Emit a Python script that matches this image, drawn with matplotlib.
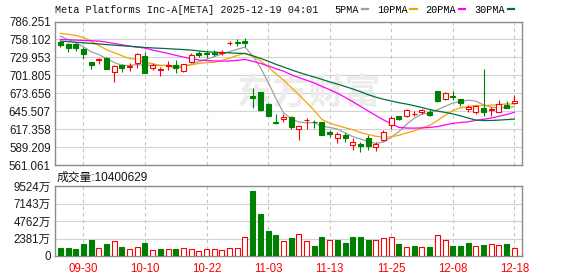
import numpy as np
import matplotlib
matplotlib.use('Agg')
import matplotlib.pyplot as plt
from matplotlib.lines import Line2D

# ---- data (prices in USD, volume in 万 shares) ----
dates = ['09-25', '09-26', '09-29', '09-30', '10-01', '10-02', '10-03', '10-06', '10-07', '10-08',
         '10-09', '10-10', '10-13', '10-14', '10-15', '10-16', '10-17', '10-20', '10-21', '10-22',
         '10-23', '10-24', '10-27', '10-28', '10-29', '10-30', '10-31', '11-03', '11-04', '11-05',
         '11-06', '11-07', '11-10', '11-11', '11-12', '11-13', '11-14', '11-17', '11-18', '11-19',
         '11-20', '11-21', '11-24', '11-25', '11-26', '11-28', '12-01', '12-02', '12-03', '12-04',
         '12-05', '12-08', '12-09', '12-10', '12-11', '12-12', '12-15', '12-16', '12-17', '12-18']

opens = [753.9, 751.3, 750.3, 743.0, 722.7, 725.3, 729.4, 706.5, 717.4, 715.4,
         720.6, 732.0, 713.8, 710.1, 716.4, 718.0, 708.6, 722.7, 737.2, 736.2,
         737.2, 736.7, 751.8, 753.9, 755.5, 669.5, 675.7, 656.9, 627.8, 632.5,
         636.1, 617.4, 630.9, 629.3, 627.8, 613.2, 602.8, 608.5, 591.8, 593.9,
         603.8, 589.2, 599.6, 624.1, 637.7, 637.2, 640.8, 643.9, 644.5, 677.3,
         665.3, 669.5, 664.3, 649.7, 643.9, 650.7, 647.1, 645.0, 655.4, 658.0]
highs = [756.0, 752.9, 751.8, 745.6, 722.7, 729.4, 731.0, 717.4, 720.0, 720.6,
         736.2, 737.8, 720.6, 715.4, 723.7, 725.3, 720.0, 736.2, 739.3, 740.4,
         741.4, 740.9, 756.0, 759.1, 760.2, 682.0, 675.7, 658.0, 641.3, 640.8,
         637.7, 622.6, 635.6, 630.9, 629.3, 616.3, 613.2, 610.6, 603.3, 596.5,
         607.4, 597.5, 616.3, 637.2, 638.7, 649.7, 646.0, 649.7, 648.6, 677.3,
         675.7, 676.8, 665.3, 655.4, 655.4, 711.7, 652.8, 662.7, 661.7, 670.5]
lows = [746.6, 738.8, 740.4, 727.9, 712.2, 720.0, 712.2, 691.9, 707.5, 709.1,
        713.8, 706.0, 710.1, 701.3, 710.1, 704.9, 707.5, 720.6, 729.9, 728.4,
        732.6, 733.1, 749.2, 747.2, 746.6, 650.2, 646.5, 637.2, 625.7, 628.3,
        617.9, 600.7, 617.9, 618.9, 608.5, 604.8, 594.9, 596.5, 584.0, 581.4,
        584.0, 582.4, 598.6, 617.9, 631.9, 636.1, 638.2, 641.8, 638.2, 660.1,
        663.2, 663.2, 654.4, 644.5, 641.8, 638.2, 638.2, 643.9, 650.7, 656.9]
closes = [749.2, 745.1, 745.1, 735.7, 718.5, 727.3, 712.2, 715.9, 713.8, 716.9,
          734.6, 706.0, 717.4, 711.2, 717.4, 712.8, 719.0, 733.6, 733.6, 734.6,
          735.7, 738.3, 752.9, 751.8, 751.8, 666.4, 647.1, 638.2, 626.7, 636.6,
          620.0, 621.5, 631.9, 627.8, 608.5, 610.1, 609.5, 602.8, 597.0, 590.2,
          590.2, 594.4, 613.2, 635.6, 633.5, 647.6, 641.8, 647.6, 640.3, 661.7,
          674.2, 667.9, 659.1, 651.8, 653.3, 645.0, 648.6, 656.4, 650.7, 661.7]

ma5 = [763.3, 758.1, 752.9, 746.6, 738.7, 734.3, 727.8, 721.9, 717.5, 717.2,
       718.7, 717.4, 717.7, 717.2, 717.3, 713.0, 715.6, 718.8, 723.3, 726.7,
       731.3, 735.2, 739.0, 742.7, 746.1, 732.2, 714.0, 691.1, 666.0, 643.0,
       633.7, 628.6, 627.3, 627.6, 621.9, 620.0, 617.6, 611.7, 605.6, 601.9,
       597.9, 594.9, 597.0, 604.7, 613.4, 624.9, 634.3, 641.2, 642.2, 647.8,
       653.1, 658.3, 660.6, 662.9, 661.3, 655.4, 651.6, 651.0, 650.8, 652.5]
ma10 = [767.5, 766.4, 764.3, 761.2, 755.5, 748.7, 742.0, 737.3, 732.6, 728.0,
        726.5, 722.6, 719.8, 717.4, 717.3, 715.8, 716.5, 718.3, 720.3, 722.0,
        722.1, 725.4, 728.9, 733.0, 736.4, 731.8, 724.6, 715.0, 704.4, 694.6,
        683.0, 671.3, 659.2, 646.8, 632.5, 626.8, 623.1, 619.5, 616.6, 611.9,
        609.0, 606.2, 604.4, 605.2, 607.7, 611.4, 614.6, 619.1, 623.4, 630.6,
        639.0, 646.3, 650.9, 652.6, 654.5, 654.3, 655.0, 655.8, 656.9, 656.9]
ma20 = [758.1, 757.6, 757.1, 756.5, 756.0, 755.5, 753.9, 751.8, 749.8, 747.7,
        746.1, 744.5, 741.4, 738.8, 736.2, 733.1, 730.5, 727.9, 725.8, 725.0,
        724.3, 724.0, 724.4, 725.2, 726.8, 723.8, 720.5, 716.7, 712.3, 708.3,
        702.6, 698.3, 694.1, 689.9, 684.4, 679.3, 673.8, 667.3, 660.5, 653.2,
        646.0, 638.8, 631.8, 626.0, 620.1, 619.1, 618.9, 619.3, 620.0, 621.3,
        624.0, 626.3, 627.7, 628.9, 631.1, 632.8, 634.8, 637.5, 640.2, 643.7]
ma30 = [755.5, 754.6, 753.7, 752.8, 751.9, 751.0, 750.0, 749.1, 748.2, 747.3,
        746.4, 745.5, 744.8, 744.2, 743.6, 742.9, 742.2, 741.4, 740.1, 738.8,
        738.1, 737.5, 737.0, 736.5, 736.0, 732.5, 728.4, 724.0, 719.2, 714.8,
        710.5, 706.4, 702.6, 699.1, 695.4, 691.5, 688.1, 684.3, 680.4, 676.2,
        671.4, 667.6, 664.2, 661.6, 658.8, 656.7, 654.1, 651.2, 648.1, 645.7,
        643.6, 641.3, 638.2, 634.8, 631.6, 630.8, 630.9, 631.5, 632.3, 633.1]

volumes = [1048, 1048, 911, 1595, 2142, 1139, 1595, 2096, 1185, 1003,
           1276, 1732, 866, 911, 1003, 911, 1139, 911, 729, 911,
           1003, 866, 1139, 1139, 2597, 8841, 5696, 3372, 2825, 2005,
           2415, 3053, 2005, 1322, 2552, 2142, 2142, 1732, 2552, 2552,
           2142, 2142, 2415, 2552, 1595, 1185, 1322, 1185, 1185, 2916,
           2142, 1322, 1322, 1732, 1322, 1458, 1595, 1458, 1595, 1040]
vol_up = [0, 0, 0, 0, 0, 1, 0, 1, 0, 1,
          1, 0, 1, 0, 1, 0, 1, 1, 1, 1,
          1, 1, 1, 1, 1, 0, 0, 0, 0, 1,
          0, 1, 1, 0, 0, 1, 0, 0, 0, 0,
          0, 1, 1, 1, 0, 1, 0, 1, 0, 1,
          1, 0, 0, 0, 1, 0, 1, 1, 0, 1]

price_ticks = [561.061, 589.209, 617.358, 645.507, 673.656, 701.805, 729.953, 758.102, 786.251]
vol_ticks = [0, 2381, 4762, 7143, 9524]
vol_labels = ['0', '2381万', '4762万', '7143万', '9524万']
label_dates = ['09-30', '10-10', '10-22', '11-03', '11-13', '11-25', '12-08', '12-18']

RED = '#ff0000'
GREEN = '#008000'
ma_colors = ['#a0a0a0', '#f5a400', '#ff00ff', '#00703c']
cn = ['Liberation Sans', 'Noto Sans CJK SC']
mono = 'Liberation Mono'

W, H = 578, 276
fig = plt.figure(figsize=(W / 100, H / 100), dpi=100)
fig.patch.set_facecolor('white')


def px_axes(left, top, right, bottom):
    return fig.add_axes([left / W, 1 - bottom / H, (right - left) / W, (bottom - top) / H])


ax = px_axes(55, 21.5, 522, 165)
axv = px_axes(55, 186, 522, 256)

x = np.arange(len(dates))
o, h, l, c = map(np.array, (opens, highs, lows, closes))
up = c >= o
tick_idx = [dates.index(d) for d in label_dates]

for a in (ax, axv):
    a.set_xlim(-0.69, 60.0)
    for s in a.spines.values():
        s.set_color('#8c8c8c')
        s.set_linewidth(1.0)
    a.yaxis.grid(True, color='#d2d2d2', lw=0.8)
    a.set_axisbelow(True)
    for i in tick_idx:
        a.axvline(i, color='#c4c4c4', lw=0.8, ls=(0, (3, 3)), zorder=0.5)
    a.tick_params(length=0, labelsize=8.3, colors='#1a1a1a', pad=3)

# watermark
ax.text(0.545, 0.5, '东方财富', transform=ax.transAxes, ha='center', va='center',
        fontsize=26, fontweight='bold', color='#ececec', family='Noto Sans CJK SC', zorder=0.6)

# candles
bw = 0.65
ax.vlines(x, l, h, colors=np.where(up, RED, GREEN), lw=0.8, zorder=3)
body = np.maximum(np.abs(c - o), 0.6)
ax.bar(x[up], body[up], bottom=np.minimum(o, c)[up], width=bw,
       facecolor='white', edgecolor=RED, lw=0.8, zorder=4)
ax.bar(x[~up], body[~up], bottom=np.minimum(o, c)[~up], width=bw,
       facecolor=GREEN, edgecolor=GREEN, lw=0.8, zorder=4)

# moving averages
for ma, col in zip((ma5, ma10, ma20, ma30), ma_colors):
    ax.plot(x, ma, color=col, lw=0.9, zorder=2)

ax.set_ylim(price_ticks[0], price_ticks[-1])
ax.set_yticks(price_ticks)
ax.set_yticklabels([f'{v:.3f}' for v in price_ticks], family='Liberation Sans')
ax.set_xticks([])

# volume
v = np.array(volumes)
vu = np.array(vol_up, dtype=bool)
axv.bar(x[vu], v[vu], width=bw, facecolor='white', edgecolor=RED, lw=0.8, zorder=3)
axv.bar(x[~vu], v[~vu], width=bw, facecolor=GREEN, edgecolor=GREEN, lw=0.8, zorder=3)
axv.set_ylim(0, vol_ticks[-1])
axv.set_yticks(vol_ticks)
axv.set_yticklabels(vol_labels, family=cn)
axv.set_xticks(tick_idx)
axv.set_xticklabels(label_dates, color=RED, family='Liberation Sans')
axv.tick_params(axis='x', pad=5)

# header texts
fig.text(55 / W, 1 - 10 / H, 'Meta Platforms Inc-A[META] 2025-12-19 04:01',
         family=mono, fontsize=7.3, va='center', ha='left', color='#111111')
handles = [Line2D([], [], color=col, lw=1.6) for col in ma_colors]
fig.legend(handles, ['5PMA', '10PMA', '20PMA', '30PMA'], ncol=4, markerfirst=False,
           frameon=False, loc='center left', bbox_to_anchor=(334 / W, 1 - 10 / H),
           prop={'family': mono, 'size': 7.3}, handlelength=0.6, handletextpad=0.3,
           columnspacing=0.9, borderpad=0, borderaxespad=0)
fig.text(57 / W, 1 - 178 / H, '成交量:10400629', family=cn, fontsize=8.5,
         va='center', ha='left', color='#111111')

fig.savefig('out.png', dpi=100)
